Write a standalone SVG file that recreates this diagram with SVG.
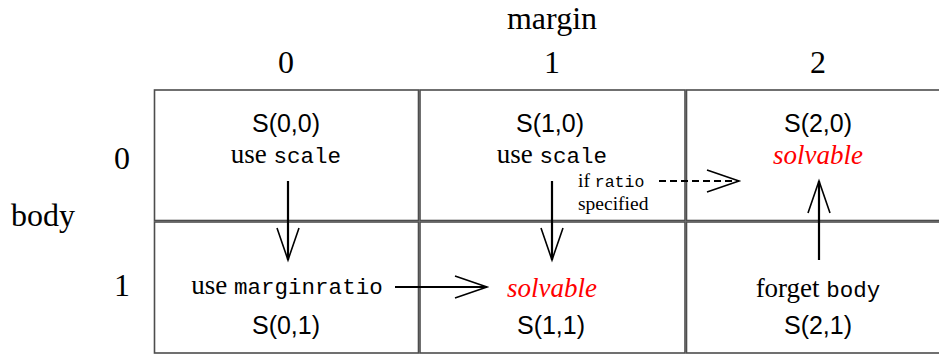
<svg xmlns="http://www.w3.org/2000/svg" width="939" height="356" viewBox="0 0 939 356">
<style>
.cell{fill:#fff;stroke:#4d4d4d;stroke-width:1.6}
.hd{font-family:"Liberation Serif",serif;font-size:32px;fill:#000;text-anchor:middle}
.sf{font-family:"Liberation Sans",sans-serif;font-size:25px;fill:#000;text-anchor:middle}
.rm{font-family:"Liberation Serif",serif;font-size:27px;fill:#000;text-anchor:middle}
.tt{font-family:"Liberation Mono",monospace;font-size:22.5px}
.red{font-family:"Liberation Serif",serif;font-style:italic;font-size:27px;fill:#ff0000;text-anchor:middle}
.sm{font-family:"Liberation Serif",serif;font-size:19.5px;fill:#000}
.smtt{font-family:"Liberation Mono",monospace;font-size:16.5px}
.arr{fill:none;stroke:#000;stroke-width:2.2}
.dash{stroke-dasharray:7 4}
</style>
<defs>
<marker id="ah" markerUnits="userSpaceOnUse" markerWidth="40" markerHeight="30" refX="34" refY="12" orient="auto" overflow="visible">
<path d="M2,1 L34,12 L2,23" fill="none" stroke="#000" stroke-width="1.6"/>
</marker>
</defs>
<g id="headers">
<text class="hd" x="552" y="29">margin</text>
<text class="hd" x="286" y="73">0</text>
<text class="hd" x="552" y="73">1</text>
<text class="hd" x="818" y="73">2</text>
<text class="hd" x="43" y="226">body</text>
<text class="hd" x="122" y="169">0</text>
<text class="hd" x="122" y="296">1</text>
</g>
<g id="S00">
<rect class="cell" x="154.5" y="90" width="264" height="130.5"/>
<text class="sf" x="286" y="132">S(0,0)</text>
<text class="rm" x="286" y="163">use <tspan class="tt">scale</tspan></text>
</g>
<g id="S10">
<rect class="cell" x="420" y="90" width="265" height="130.5"/>
<text class="sf" x="550" y="132">S(1,0)</text>
<text class="rm" x="552" y="163">use <tspan class="tt">scale</tspan></text>
</g>
<g id="S20">
<rect class="cell" x="686.5" y="90" width="262" height="130.5"/>
<text class="sf" x="818" y="132">S(2,0)</text>
<text class="red" x="818" y="164">solvable</text>
</g>
<g id="S01">
<rect class="cell" x="154.5" y="222" width="264" height="131"/>
<text class="rm" x="287" y="294">use <tspan class="tt">marginratio</tspan></text>
<text class="sf" x="286" y="334">S(0,1)</text>
</g>
<g id="S11">
<rect class="cell" x="420" y="222" width="265" height="131"/>
<text class="red" x="552" y="297">solvable</text>
<text class="sf" x="551" y="334">S(1,1)</text>
</g>
<g id="S21">
<rect class="cell" x="686.5" y="222" width="262" height="131"/>
<text class="rm" x="818" y="297">forget <tspan class="tt">body</tspan></text>
<text class="sf" x="818" y="334">S(2,1)</text>
</g>
<g id="connectors">
<line class="arr" x1="288" y1="181" x2="288" y2="260" marker-end="url(#ah)"/>
<line class="arr" x1="552" y1="181" x2="552" y2="260" marker-end="url(#ah)"/>
<line class="arr" x1="395" y1="287" x2="487" y2="287" marker-end="url(#ah)"/>
<line class="arr dash" x1="659" y1="181" x2="739" y2="181" marker-end="url(#ah)"/>
<line class="arr" x1="819" y1="260" x2="819" y2="181" marker-end="url(#ah)"/>
<text class="sm" x="578" y="187">if <tspan class="smtt">ratio</tspan></text>
<text class="sm" x="578" y="210">specified</text>
</g>
</svg>
